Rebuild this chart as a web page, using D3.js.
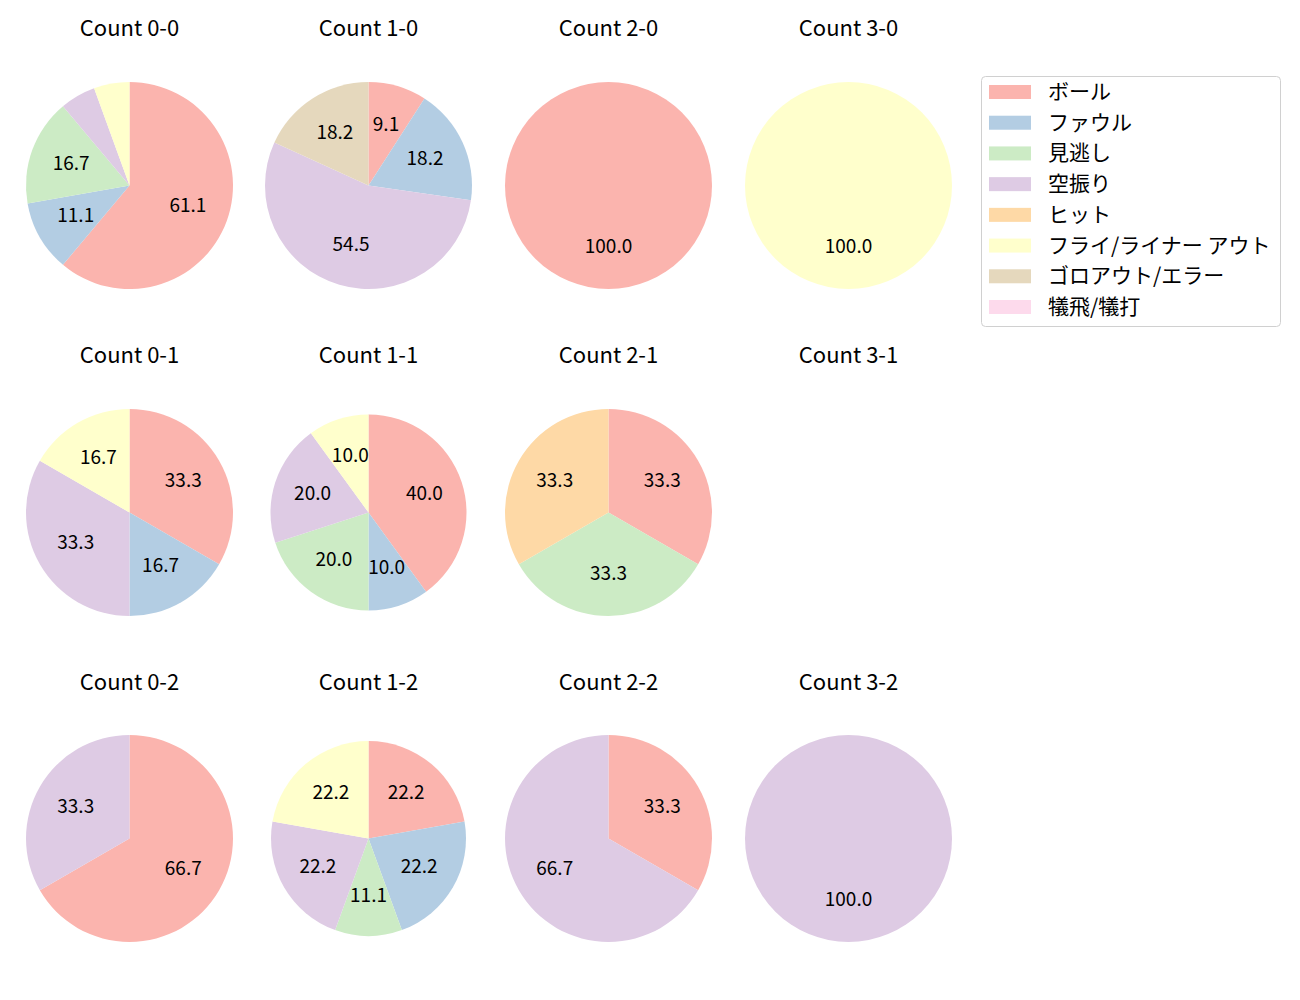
<!DOCTYPE html>
<html><head><meta charset="utf-8">
<script src="https://cdn.jsdelivr.net/npm/d3@7"></script>
<style>body{margin:0;background:#fff;} svg{display:block;}</style>
</head><body>
<svg id="c" width="1300" height="1000"></svg>
<script>
const categories = ["ボール","ファウル","見逃し","空振り","ヒット","フライ/ライナー アウト","ゴロアウト/エラー","犠飛/犠打"];
const colors = ["#fbb4ae","#b3cde3","#ccebc5","#decbe4","#fed9a6","#ffffcc","#e5d8bd","#fddaec"];
const titles = ["Count 0-0","Count 1-0","Count 2-0","Count 3-0",
                "Count 0-1","Count 1-1","Count 2-1","Count 3-1",
                "Count 0-2","Count 1-2","Count 2-2","Count 3-2"];
// counts per category for each ball-strike count
const c00 = [11,2,3,1,0,1,0,0];
const c10 = [1,2,0,6,0,0,2,0];
const c20 = [1,0,0,0,0,0,0,0];
const c30 = [0,0,0,0,0,1,0,0];
const c01 = [2,1,0,2,0,1,0,0];
const c11 = [4,1,2,2,0,1,0,0];
const c21 = [1,0,1,0,1,0,0,0];
const c31 = [0,0,0,0,0,0,0,0];
const c02 = [2,0,0,1,0,0,0,0];
const c12 = [2,2,1,2,0,2,0,0];
const c22 = [1,0,0,2,0,0,0,0];
const c32 = [0,0,0,1,0,0,0,0];
const seriesValues = [c00,c10,c20,c30,c01,c11,c21,c31,c02,c12,c22,c32];

// layout
const colX = [129.5, 368.5, 608.5, 848.5];
const rowY = [185.5, 512.5, 838.5];
const titleY = [28, 355, 682];
const baseR = 103.5;
const radiusFactor = [1,1,1,1, 1,0.947,1,1, 1,0.942,1,1];
const font = "'Noto Sans CJK JP','Noto Sans',sans-serif";

const svg = d3.select("#c");
const color = d3.scaleOrdinal().domain(categories).range(colors);
const pie = d3.pie().sort(null).value(d => d.v).startAngle(0).endAngle(2*Math.PI);

seriesValues.forEach((vals, i) => {
  const col = i % 4, row = Math.floor(i / 4);
  const cx = colX[col], cy = rowY[row];
  svg.append("text").attr("x", cx).attr("y", titleY[row] - 2.5).attr("text-anchor","middle")
    .attr("dominant-baseline","central").attr("font-family", font).attr("font-size", 22)
    .attr("fill","#000").text(titles[i]);
  const total = d3.sum(vals);
  if (total === 0) return;
  const r = baseR * radiusFactor[i];
  const data = vals.map((v, k) => ({v, k, cat: categories[k]})).filter(d => d.v > 0);
  const arcs = pie(data);
  const arc = d3.arc().innerRadius(0).outerRadius(r);
  const g = svg.append("g").attr("transform", `translate(${cx},${cy})`);
  g.selectAll("path").data(arcs).join("path")
    .attr("d", arc).attr("fill", d => color(d.data.cat));
  const lab = d3.arc().innerRadius(0.6*r).outerRadius(0.6*r);
  g.selectAll("text").data(arcs.filter(d => d.data.v/total*100 >= 7)).join("text")
    .attr("transform", d => { const [x, y] = lab.centroid(d); return `translate(${x},${y - 3})`; })
    .attr("text-anchor","middle").attr("dominant-baseline","central")
    .attr("font-family", font).attr("font-size", 19).attr("fill","#000")
    .text(d => (d.data.v/total*100).toFixed(1));
});

// legend
const lg = svg.append("g");
lg.append("rect").attr("x",981.5).attr("y",76.5).attr("width",299).attr("height",250)
  .attr("rx",4).attr("fill","#fff").attr("stroke","#d0d0d0");
const ly = d3.scaleLinear().domain([0, categories.length-1]).range([92, 307]);
categories.forEach((c, k) => {
  lg.append("rect").attr("x",989).attr("y",ly(k)-7).attr("width",42).attr("height",14).attr("fill",color(c));
  lg.append("text").attr("x",1048).attr("y",ly(k) - 2).attr("dominant-baseline","central")
    .attr("font-family", font).attr("font-size",21).attr("fill","#000").text(c);
});
</script>
</body></html>
